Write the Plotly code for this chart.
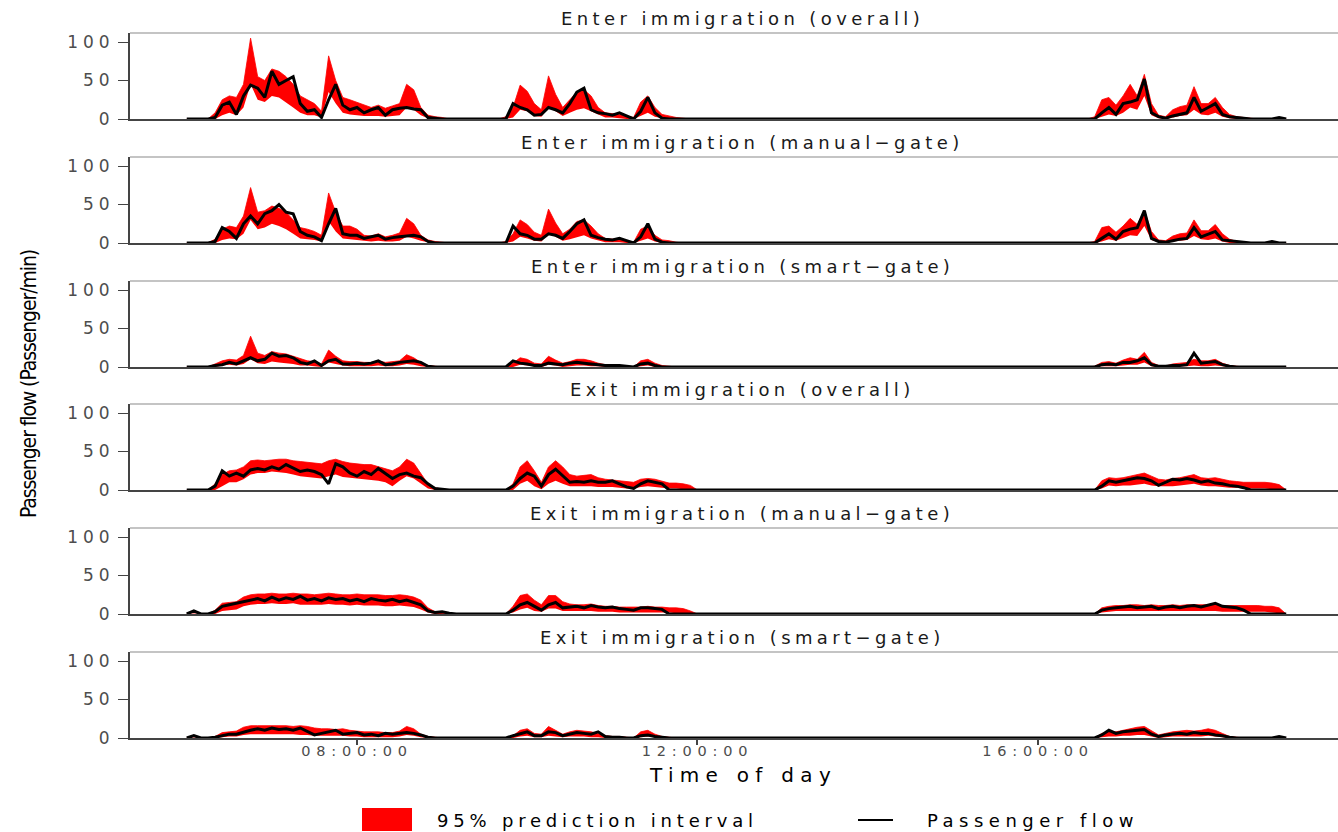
import pandas as pd
import plotly.graph_objects as go
from plotly.subplots import make_subplots

# ---------------------------------------------------------------------------
# Time axis: 5-minute bins, 06:00-12:00 and 16:35-18:55
# ---------------------------------------------------------------------------
DAY = "2021-01-01 "
TIMES = list(pd.date_range(DAY + "06:00", DAY + "12:00", freq="5min")) + \
        list(pd.date_range(DAY + "16:35", DAY + "18:55", freq="5min"))

PANEL_TITLES = [
    "Enter immigration (overall)",
    "Enter immigration (manual\u2212gate)",
    "Enter immigration (smart\u2212gate)",
    "Exit immigration (overall)",
    "Exit immigration (manual\u2212gate)",
    "Exit immigration (smart\u2212gate)",
]

X_TICK_VALS = [DAY + "08:00:00", DAY + "12:00:00", DAY + "16:00:00"]
X_TICK_TEXT = ["08:00:00", "12:00:00", "16:00:00"]
Y_TICK_VALS = [0, 50, 100]
Y_TICK_TEXT = ["0", "50", "100"]

# ---------------------------------------------------------------------------
# Passenger flow per minute and 95% prediction interval (lower / upper)
# each list: 06:00-09:30 (43) + 09:35-12:00 (30) + 16:35-18:55 (29)
# ---------------------------------------------------------------------------
enter_all_hi = [0, 0, 0, 0, 8, 25, 30, 28, 45, 105, 55, 50, 65, 62, 55, 45, 30, 25, 20, 10, 82, 50, 28, 25, 22, 18, 15, 18, 14, 17, 20, 45, 38, 15, 5, 3, 2, 0, 0, 0, 0, 0, 0] + \
               [0, 0, 3, 15, 44, 36, 20, 12, 56, 32, 15, 25, 35, 38, 30, 15, 8, 7, 6, 4, 2, 22, 30, 15, 6, 4, 2, 1, 0, 0] + \
               [0, 3, 25, 28, 18, 30, 45, 30, 58, 20, 5, 3, 12, 16, 18, 42, 20, 20, 28, 15, 6, 3, 2, 1, 0, 0, 0, 0, 0]
enter_all_lo = [0, 0, 0, 0, 0, 5, 8, 5, 15, 45, 25, 22, 30, 28, 22, 15, 8, 5, 5, 2, 35, 20, 8, 6, 5, 4, 4, 4, 3, 4, 5, 15, 12, 5, 1, 0, 0, 0, 0, 0, 0, 0, 0] + \
               [0, 0, 0, 2, 12, 10, 4, 3, 15, 10, 4, 8, 12, 14, 10, 5, 2, 2, 1, 0, 0, 4, 8, 3, 1, 0, 0, 0, 0, 0] + \
               [0, 0, 3, 6, 4, 8, 15, 12, 30, 5, 1, 0, 2, 4, 5, 12, 6, 5, 8, 3, 1, 0, 0, 0, 0, 0, 0, 0, 0]
enter_all_flow = [0, 0, 0, 0, 2, 18, 22, 6, 30, 44, 40, 28, 62, 45, 50, 55, 20, 10, 12, 2, 25, 45, 18, 12, 15, 8, 12, 15, 5, 12, 14, 15, 13, 12, 2, 1, 0, 0, 0, 0, 0, 0, 0] + \
                 [0, 0, 0, 20, 15, 12, 5, 6, 15, 12, 8, 20, 35, 40, 12, 8, 7, 5, 8, 4, 0, 10, 28, 8, 1, 0, 0, 0, 0, 0] + \
                 [0, 0, 8, 15, 6, 20, 22, 25, 52, 8, 3, 1, 4, 6, 8, 28, 10, 15, 20, 6, 3, 2, 1, 0, 0, 0, 0, 2, 0]

enter_manual_hi = [0, 0, 0, 0, 5, 18, 22, 20, 35, 72, 40, 42, 48, 45, 40, 30, 20, 18, 15, 10, 65, 40, 22, 22, 18, 10, 9, 12, 8, 10, 13, 32, 25, 10, 4, 2, 1, 0, 0, 0, 0, 0, 0] + \
                  [0, 0, 2, 12, 30, 24, 14, 10, 44, 26, 12, 18, 28, 30, 22, 12, 6, 5, 5, 3, 1, 18, 22, 10, 4, 3, 1, 0, 0, 0] + \
                  [0, 2, 20, 22, 14, 22, 32, 24, 42, 15, 4, 3, 9, 12, 13, 30, 16, 16, 24, 12, 5, 2, 1, 0, 0, 0, 0, 0, 0]
enter_manual_lo = [0, 0, 0, 0, 0, 4, 6, 5, 12, 30, 18, 20, 25, 22, 18, 12, 6, 5, 4, 2, 28, 15, 6, 5, 4, 3, 2, 3, 2, 2, 3, 8, 6, 3, 1, 0, 0, 0, 0, 0, 0, 0, 0] + \
                  [0, 0, 0, 2, 8, 6, 3, 2, 12, 8, 3, 5, 8, 10, 6, 3, 1, 1, 1, 0, 0, 3, 6, 2, 0, 0, 0, 0, 0, 0] + \
                  [0, 0, 2, 5, 3, 6, 10, 9, 22, 4, 1, 0, 2, 3, 4, 9, 5, 4, 6, 2, 0, 0, 0, 0, 0, 0, 0, 0, 0]
enter_manual_flow = [0, 0, 0, 0, 2, 20, 15, 6, 25, 35, 25, 38, 42, 50, 40, 38, 15, 10, 8, 3, 25, 45, 12, 10, 10, 6, 8, 10, 5, 7, 8, 9, 10, 8, 2, 0, 0, 0, 0, 0, 0, 0, 0] + \
                    [0, 0, 0, 22, 12, 10, 5, 5, 12, 10, 6, 15, 25, 30, 10, 7, 5, 4, 6, 3, 0, 8, 25, 5, 1, 0, 0, 0, 0, 0] + \
                    [0, 0, 6, 12, 5, 15, 18, 20, 42, 6, 2, 1, 3, 5, 6, 20, 8, 12, 15, 4, 3, 2, 1, 0, 0, 0, 2, 0, 0]

enter_smart_hi = [0, 0, 0, 0, 4, 8, 10, 9, 15, 40, 18, 15, 20, 18, 17, 14, 10, 8, 7, 4, 22, 14, 8, 7, 7, 6, 6, 8, 6, 7, 8, 16, 12, 6, 2, 1, 0, 0, 0, 0, 0, 0, 0] + \
                 [0, 0, 0, 5, 12, 10, 5, 4, 14, 9, 5, 7, 10, 10, 8, 5, 3, 2, 2, 1, 0, 8, 10, 5, 2, 1, 0, 0, 0, 0] + \
                 [0, 1, 6, 7, 5, 9, 12, 10, 19, 6, 2, 1, 4, 5, 6, 10, 8, 8, 10, 5, 2, 1, 0, 0, 0, 0, 0, 0, 0]
enter_smart_lo = [0, 0, 0, 0, 0, 2, 3, 2, 4, 10, 5, 4, 7, 6, 5, 4, 2, 2, 1, 0, 6, 4, 2, 1, 1, 1, 1, 2, 1, 1, 2, 4, 3, 1, 0, 0, 0, 0, 0, 0, 0, 0, 0] + \
                 [0, 0, 0, 0, 3, 2, 1, 0, 3, 2, 0, 1, 2, 2, 1, 1, 0, 0, 0, 0, 0, 1, 2, 0, 0, 0, 0, 0, 0, 0] + \
                 [0, 0, 1, 1, 1, 2, 3, 3, 6, 1, 0, 0, 0, 1, 1, 2, 1, 1, 2, 1, 0, 0, 0, 0, 0, 0, 0, 0, 0]
enter_smart_flow = [0, 0, 0, 0, 2, 3, 6, 4, 8, 12, 8, 10, 18, 14, 15, 12, 6, 4, 8, 2, 8, 10, 4, 4, 5, 4, 5, 8, 3, 4, 6, 7, 8, 6, 1, 0, 0, 0, 0, 0, 0, 0, 0] + \
                   [0, 0, 0, 8, 5, 4, 2, 2, 5, 4, 3, 5, 6, 5, 4, 3, 2, 2, 2, 1, 0, 4, 5, 2, 0, 0, 0, 0, 0, 0] + \
                   [0, 0, 3, 4, 3, 6, 6, 8, 12, 3, 1, 1, 2, 2, 3, 18, 5, 6, 7, 3, 1, 0, 0, 0, 0, 0, 0, 0, 0]

exit_all_hi = [0, 0, 0, 0, 8, 20, 25, 26, 30, 38, 39, 38, 39, 40, 40, 38, 37, 36, 35, 34, 38, 40, 37, 35, 34, 33, 33, 30, 28, 25, 30, 40, 35, 22, 8, 3, 1, 0, 0, 0, 0, 0, 0] + \
              [0, 0, 0, 8, 30, 38, 25, 10, 30, 38, 30, 20, 18, 19, 20, 16, 14, 13, 12, 11, 10, 14, 15, 14, 11, 9, 9, 8, 6, 0] + \
              [0, 0, 12, 16, 15, 16, 18, 20, 22, 18, 14, 13, 15, 16, 18, 20, 16, 15, 16, 14, 12, 11, 10, 10, 10, 10, 9, 7, 0]
exit_all_lo = [0, 0, 0, 0, 0, 5, 10, 10, 14, 20, 22, 22, 24, 23, 22, 20, 18, 17, 16, 15, 18, 20, 17, 16, 15, 14, 13, 12, 10, 5, 12, 18, 15, 8, 2, 0, 0, 0, 0, 0, 0, 0, 0] + \
              [0, 0, 0, 0, 8, 12, 5, 1, 8, 12, 8, 5, 5, 5, 5, 4, 4, 4, 3, 2, 2, 4, 5, 4, 3, 2, 2, 1, 0, 0] + \
              [0, 0, 2, 6, 5, 6, 6, 7, 8, 6, 5, 5, 5, 6, 7, 8, 6, 5, 5, 4, 3, 3, 2, 2, 2, 2, 1, 0, 0]
exit_all_flow = [0, 0, 0, 0, 5, 25, 18, 22, 18, 26, 28, 26, 30, 27, 33, 28, 24, 26, 24, 20, 8, 34, 30, 22, 18, 24, 20, 28, 22, 15, 20, 22, 18, 16, 8, 2, 1, 0, 0, 0, 0, 0, 0] + \
                [0, 0, 0, 5, 15, 22, 18, 5, 20, 27, 18, 10, 11, 10, 12, 10, 10, 12, 8, 4, 2, 8, 12, 10, 8, 0, 0, 0, 0, 0] + \
                [0, 0, 5, 12, 10, 12, 14, 16, 15, 12, 6, 10, 14, 13, 15, 13, 10, 12, 9, 8, 6, 5, 3, 0, 0, 0, 0, 0, 0]

exit_manual_hi = [0, 0, 0, 0, 5, 14, 15, 16, 22, 25, 26, 26, 27, 26, 26, 27, 26, 26, 25, 26, 27, 26, 25, 25, 26, 25, 25, 25, 24, 24, 25, 24, 22, 18, 8, 3, 1, 0, 0, 0, 0, 0, 0] + \
                 [0, 0, 0, 10, 24, 26, 18, 12, 24, 24, 16, 13, 12, 12, 13, 11, 10, 10, 9, 9, 9, 9, 10, 9, 9, 8, 8, 7, 4, 0] + \
                 [0, 0, 8, 10, 11, 11, 12, 12, 11, 12, 11, 11, 12, 11, 12, 12, 12, 12, 12, 11, 11, 11, 11, 11, 11, 10, 10, 8, 0]
exit_manual_lo = [0, 0, 0, 0, 0, 4, 5, 6, 10, 12, 13, 13, 14, 13, 13, 14, 12, 12, 12, 12, 13, 12, 12, 11, 12, 11, 11, 11, 10, 10, 11, 10, 9, 6, 2, 0, 0, 0, 0, 0, 0, 0, 0] + \
                 [0, 0, 0, 2, 6, 8, 4, 3, 7, 7, 4, 4, 4, 4, 4, 3, 3, 3, 2, 2, 2, 2, 2, 2, 2, 2, 1, 1, 0, 0] + \
                 [0, 0, 2, 3, 4, 4, 4, 4, 4, 4, 4, 4, 4, 4, 4, 4, 4, 4, 4, 3, 3, 3, 3, 3, 3, 3, 2, 1, 0]
exit_manual_flow = [0, 4, 0, 0, 3, 10, 12, 14, 16, 18, 20, 17, 22, 18, 21, 19, 23, 18, 20, 17, 21, 19, 20, 17, 19, 16, 20, 18, 17, 19, 16, 18, 15, 12, 4, 2, 3, 1, 0, 0, 0, 0, 0] + \
                   [0, 0, 0, 5, 12, 15, 10, 5, 12, 15, 8, 9, 10, 8, 11, 9, 8, 9, 7, 6, 5, 8, 8, 7, 6, 0, 0, 0, 0, 0] + \
                   [0, 0, 5, 7, 8, 9, 10, 8, 9, 10, 7, 9, 10, 8, 10, 11, 9, 12, 14, 10, 9, 8, 5, 0, 0, 0, 0, 0, 0]

exit_smart_hi = [0, 0, 0, 0, 2, 7, 8, 9, 14, 16, 16, 16, 16, 16, 16, 15, 16, 15, 13, 12, 12, 11, 12, 10, 9, 8, 8, 8, 7, 7, 9, 15, 12, 5, 2, 1, 0, 0, 0, 0, 0, 0, 0] + \
                [0, 0, 0, 3, 10, 12, 6, 5, 15, 10, 5, 8, 10, 9, 8, 6, 3, 2, 2, 1, 0, 8, 10, 5, 2, 1, 0, 0, 0, 0] + \
                [0, 0, 6, 8, 8, 10, 12, 14, 15, 10, 4, 6, 8, 9, 10, 9, 10, 12, 10, 6, 2, 1, 0, 0, 0, 0, 0, 0, 0]
exit_smart_lo = [0, 0, 0, 0, 0, 1, 2, 2, 4, 5, 5, 5, 5, 5, 5, 5, 4, 4, 3, 3, 3, 3, 3, 2, 2, 1, 1, 1, 1, 1, 2, 4, 3, 1, 0, 0, 0, 0, 0, 0, 0, 0, 0] + \
                [0, 0, 0, 0, 2, 3, 1, 1, 3, 2, 1, 2, 2, 2, 1, 1, 0, 0, 0, 0, 0, 1, 2, 1, 0, 0, 0, 0, 0, 0] + \
                [0, 0, 1, 2, 2, 3, 3, 4, 4, 2, 0, 1, 2, 2, 2, 2, 2, 3, 2, 1, 0, 0, 0, 0, 0, 0, 0, 0, 0]
exit_smart_flow = [0, 3, 0, 0, 1, 3, 5, 5, 8, 10, 12, 10, 13, 11, 12, 10, 13, 9, 4, 6, 8, 10, 5, 6, 7, 4, 5, 3, 6, 5, 6, 7, 6, 4, 1, 0, 0, 0, 0, 0, 0, 0, 0] + \
                  [0, 0, 0, 3, 6, 8, 3, 3, 8, 7, 3, 5, 7, 6, 5, 8, 2, 1, 1, 0, 0, 3, 4, 2, 1, 0, 0, 0, 0, 0] + \
                  [0, 0, 4, 10, 6, 8, 9, 10, 11, 5, 2, 4, 5, 6, 5, 7, 6, 6, 4, 3, 1, 0, 0, 0, 0, 0, 0, 2, 0]

PANELS = [
    (enter_all_lo, enter_all_hi, enter_all_flow),
    (enter_manual_lo, enter_manual_hi, enter_manual_flow),
    (enter_smart_lo, enter_smart_hi, enter_smart_flow),
    (exit_all_lo, exit_all_hi, exit_all_flow),
    (exit_manual_lo, exit_manual_hi, exit_manual_flow),
    (exit_smart_lo, exit_smart_hi, exit_smart_flow),
]

# ---------------------------------------------------------------------------
# Layout geometry (pixels)
# ---------------------------------------------------------------------------
W, H = 1338, 832
ML, MR, MT, MB = 130, 0, 33, 94
PW = W - ML - MR
PH = H - MT - MB
PANEL_TOPS = [0, 124, 248, 371, 495, 619]
PANEL_H = 86

RED = "#FF0000"
AXIS = "#444444"
TICK_GREY = "#4d4d4d"
FONT = "DejaVu Sans"


def spaced(text, px):
    return f'<span style="letter-spacing:{px}px">{text}</span>'


def px_x(px):
    return (px - ML) / PW


def px_y(py):
    return (MT + PH - py) / PH


fig = make_subplots(rows=6, cols=1, shared_xaxes=True, vertical_spacing=0.02)

for i, (lo, hi, flow) in enumerate(PANELS):
    row = i + 1
    fig.add_trace(go.Scatter(x=TIMES, y=lo, mode="lines", line=dict(width=0, color=RED),
                             showlegend=False, hoverinfo="skip"), row=row, col=1)
    fig.add_trace(go.Scatter(x=TIMES, y=hi, mode="lines", line=dict(width=0.8, color=RED),
                             fill="tonexty", fillcolor=RED, showlegend=False), row=row, col=1)
    fig.add_trace(go.Scatter(x=TIMES, y=flow, mode="lines", line=dict(width=3, color="black"),
                             showlegend=False), row=row, col=1)

    top = PANEL_TOPS[i]
    dom = [1 - (top + PANEL_H) / PH, 1 - top / PH]
    ysuf = "" if row == 1 else str(row)
    fig.layout["yaxis" + ysuf].update(
        domain=dom, range=[0, 111.7], tickvals=Y_TICK_VALS,
        ticktext=[spaced(t, 5) for t in Y_TICK_TEXT],
        showline=True, linecolor=AXIS, linewidth=2, ticks="outside", ticklen=10,
        tickwidth=1.3, tickcolor=AXIS, showgrid=False, zeroline=False,
        tickfont=dict(family=FONT, size=17, color=TICK_GREY), automargin=False,
    )
    last = row == 6
    fig.layout["xaxis" + ysuf].update(
        range=[DAY + "05:20:00", DAY + "19:31:30"],
        showline=True, linecolor=AXIS, linewidth=1.5, showgrid=False, zeroline=False,
        tickvals=X_TICK_VALS if last else [],
        ticktext=[spaced(t, 5.8) for t in X_TICK_TEXT] if last else [],
        ticks="outside" if last else "", ticklen=5, tickwidth=2, tickcolor=AXIS,
        showticklabels=last, tickfont=dict(family=FONT, size=14.5, color=TICK_GREY),
        ticklabelstandoff=-6, automargin=False,
    )

    # upper frame line of each panel
    fig.add_shape(type="line", xref="paper", yref="paper", x0=0, x1=1, y0=dom[1], y1=dom[1],
                  line=dict(color="#8a8a8a", width=1.2))
    # panel title
    fig.add_annotation(text=spaced(PANEL_TITLES[i], 4.4), xref="paper", yref="paper",
                       x=px_x(742), y=dom[1], yshift=15, xanchor="center", yanchor="middle",
                       showarrow=False, font=dict(family=FONT, size=18, color="#1a1a1a"))

# axis titles
fig.add_annotation(text=spaced("Time of day", 6.3), xref="paper", yref="paper",
                   x=px_x(743), y=px_y(775), xanchor="center", yanchor="middle", showarrow=False,
                   font=dict(family=FONT, size=20, color="black"))
fig.add_annotation(text=spaced("Passenger flow (Passenger/min)", -1.1), xref="paper", yref="paper",
                   x=px_x(29), y=px_y(384), xanchor="center", yanchor="middle", textangle=-90,
                   showarrow=False,
                   font=dict(family="Liberation Sans Narrow, DejaVu Sans Condensed, Arial Narrow, sans-serif",
                             size=21, color="black"))

# legend
fig.add_shape(type="rect", xref="paper", yref="paper", x0=px_x(362), x1=px_x(412),
              y0=px_y(831), y1=px_y(808), fillcolor=RED, line=dict(width=0))
fig.add_shape(type="line", xref="paper", yref="paper", x0=px_x(858), x1=px_x(893),
              y0=px_y(820), y1=px_y(820), line=dict(color="black", width=2))
fig.add_annotation(text=spaced("95% prediction interval", 4.8), xref="paper", yref="paper",
                   x=px_x(435), y=px_y(820), xanchor="left", yanchor="middle", showarrow=False,
                   font=dict(family=FONT, size=18, color="black"))
fig.add_annotation(text=spaced("Passenger flow", 5.5), xref="paper", yref="paper",
                   x=px_x(925), y=px_y(820), xanchor="left", yanchor="middle", showarrow=False,
                   font=dict(family=FONT, size=18, color="black"))

fig.update_layout(
    width=W, height=H, margin=dict(l=ML, r=MR, t=MT, b=MB),
    paper_bgcolor="white", plot_bgcolor="white", showlegend=False,
    font=dict(family=FONT),
)

fig.write_html("out.html")
